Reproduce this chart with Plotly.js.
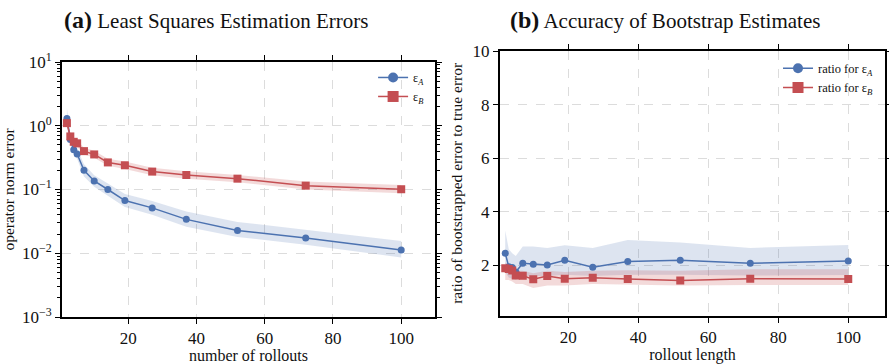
<!DOCTYPE html>
<html>
<head>
<meta charset="utf-8">
<script src="https://cdn.plot.ly/plotly-3.0.1.min.js"></script>
<style>html,body{margin:0;padding:0;background:#fff;}#chart{width:889px;height:364px;}</style>
</head>
<body>
<div id="chart"></div>
<script>
// ---- Panel (a): least squares estimation errors ----
const rollouts = [2, 3, 4, 5, 7, 10, 14, 19, 27, 37, 52, 72, 100];
const errA   = [1.30, 0.61, 0.42, 0.36, 0.20, 0.136, 0.100, 0.067, 0.0515, 0.034, 0.0227, 0.0174, 0.0112];
const errAHi = [1.90, 0.74, 0.52, 0.44, 0.25, 0.167, 0.124, 0.085, 0.066, 0.045, 0.031, 0.0230, 0.0155];
const errALo = [0.95, 0.52, 0.35, 0.30, 0.16, 0.110, 0.080, 0.053, 0.040, 0.026, 0.018, 0.0136, 0.0086];
const errB   = [1.10, 0.68, 0.56, 0.53, 0.40, 0.355, 0.266, 0.240, 0.191, 0.169, 0.148, 0.115, 0.101];
const errBHi = [1.22, 0.76, 0.63, 0.59, 0.45, 0.405, 0.305, 0.276, 0.219, 0.194, 0.169, 0.133, 0.118];
const errBLo = [0.99, 0.61, 0.50, 0.47, 0.355, 0.315, 0.235, 0.210, 0.167, 0.148, 0.130, 0.100, 0.087];

// ---- Panel (b): accuracy of bootstrap estimates ----
const lengths   = [2, 3, 4, 5, 7, 10, 14, 19, 27, 37, 52, 72, 100];
const ratioA    = [2.45, 1.95, 1.92, 1.75, 2.08, 2.04, 2.01, 2.19, 1.93, 2.14, 2.19, 2.08, 2.16];
const ratioAHi  = [3.30, 2.60, 2.45, 2.35, 2.70, 2.70, 2.65, 2.75, 2.65, 2.95, 2.85, 2.65, 2.76];
const ratioALo  = [1.75, 1.55, 1.50, 1.45, 1.60, 1.60, 1.60, 1.65, 1.60, 1.65, 1.65, 1.62, 1.64];
const ratioB    = [1.89, 1.86, 1.81, 1.62, 1.61, 1.48, 1.60, 1.50, 1.54, 1.49, 1.43, 1.50, 1.49];
const ratioBHi  = [2.10, 2.05, 1.95, 1.80, 1.80, 1.70, 1.80, 1.75, 1.80, 1.82, 1.80, 1.85, 1.85];
const ratioBLo  = [1.45, 1.45, 1.40, 1.30, 1.30, 1.15, 1.25, 1.25, 1.30, 1.28, 1.25, 1.27, 1.27];

// ---- tick labels ----
const xTickVals = [20, 40, 60, 80, 100];
const yLogTickVals = [0.001, 0.01, 0.1, 1, 10];
const yLogTickText = ['10<sup>\u22123</sup>', '10<sup>\u22122</sup>', '10<sup>\u22121</sup>', '10<sup>0</sup>', '10<sup>1</sup>'];
const yLinTickVals = [2, 4, 6, 8, 10];

const BLUE = '#4C72B0', RED = '#C44E52';
const BLUE_FILL = 'rgba(76,114,176,0.19)', RED_FILL = 'rgba(196,78,82,0.21)';
const FONT = 'Liberation Serif';

function band(x, lo, hi, fill, xa, ya) {
  return [
    {x: x, y: lo, xaxis: xa, yaxis: ya, mode: 'lines', line: {width: 0, color: fill}, showlegend: false, hoverinfo: 'skip'},
    {x: x, y: hi, xaxis: xa, yaxis: ya, mode: 'lines', line: {width: 0, color: fill}, fill: 'tonexty', fillcolor: fill, showlegend: false, hoverinfo: 'skip'}
  ];
}
function series(x, y, color, symbol, size, xa, ya) {
  return {x: x, y: y, xaxis: xa, yaxis: ya, mode: 'lines+markers', line: {color: color, width: 1.5},
          marker: {color: color, symbol: symbol, size: size}, showlegend: false};
}
function legendEntry(name, color, symbol, size, legend, xa, ya) {
  return {x: [null], y: [null], xaxis: xa, yaxis: ya, mode: 'lines+markers', name: name, legend: legend,
          line: {color: color, width: 1.5}, marker: {color: color, symbol: symbol, size: size}};
}

const data = [].concat(
  band(rollouts, errALo, errAHi, BLUE_FILL, 'x', 'y'),
  band(rollouts, errBLo, errBHi, RED_FILL, 'x', 'y'),
  [series(rollouts, errA, BLUE, 'circle', 7, 'x', 'y'),
   series(rollouts, errB, RED, 'square', 8, 'x', 'y')],
  band(lengths, ratioALo, ratioAHi, BLUE_FILL, 'x2', 'y2'),
  band(lengths, ratioBLo, ratioBHi, RED_FILL, 'x2', 'y2'),
  [series(lengths, ratioA, BLUE, 'circle', 7, 'x2', 'y2'),
   series(lengths, ratioB, RED, 'square', 8, 'x2', 'y2')],
  [legendEntry('\u03b5<sub><i>A</i></sub>', BLUE, 'circle', 10, 'legend', 'x', 'y'),
   legendEntry('\u03b5<sub><i>B</i></sub>', RED, 'square', 11, 'legend', 'x', 'y'),
   legendEntry('ratio for \u03b5<sub><i>A</i></sub>', BLUE, 'circle', 10, 'legend2', 'x2', 'y2'),
   legendEntry('ratio for \u03b5<sub><i>B</i></sub>', RED, 'square', 11, 'legend2', 'x2', 'y2')]
);

const axisCommon = {
  showline: true, linecolor: '#000', linewidth: 2, mirror: 'allticks',
  ticks: 'outside', ticklen: 5, tickwidth: 1, tickcolor: '#000',
  showgrid: true, gridcolor: '#dcdcdc', griddash: 'dash', gridwidth: 1,
  zeroline: false, tickfont: {family: FONT, size: 17, color: '#111'},
  automargin: false
};

const layout = {
  width: 889, height: 364,
  margin: {l: 62, r: 4, t: 51, b: 47},
  paper_bgcolor: '#fff', plot_bgcolor: '#fff',
  font: {family: FONT, color: '#111'},
  xaxis: Object.assign({}, axisCommon, {
    domain: [0, 0.4532], anchor: 'y', range: [0.56, 109.9],
    tickmode: 'array', tickvals: xTickVals,
    title: {text: 'number of rollouts', font: {family: FONT, size: 16}, standoff: 0}
  }),
  yaxis: Object.assign({}, axisCommon, {
    domain: [0, 0.9586], anchor: 'x', type: 'log', range: [-3, 1],
    tickmode: 'array', tickvals: yLogTickVals, ticktext: yLogTickText,
    minor: {ticks: 'outside', ticklen: 3, tickcolor: '#000', dtick: 'D1', showgrid: false},
    title: {text: 'operator norm error', font: {family: FONT, size: 15.5}, standoff: 4}
  }),
  xaxis2: Object.assign({}, axisCommon, {
    domain: [0.5322, 1], anchor: 'y2', range: [0.5, 110.5],
    tickmode: 'array', tickvals: xTickVals,
    title: {text: 'rollout length', font: {family: FONT, size: 16}, standoff: 0}
  }),
  yaxis2: Object.assign({}, axisCommon, {
    domain: [0.0049, 1], anchor: 'x2', range: [0.12, 10],
    tickmode: 'array', tickvals: yLinTickVals,
    title: {text: 'ratio of bootstrapped error to true error', font: {family: FONT, size: 15.5}, standoff: 6}
  }),
  legend: {x: 0.378, y: 0.955, xanchor: 'left', yanchor: 'top', bgcolor: 'rgba(0,0,0,0)',
           font: {family: FONT, size: 12}, tracegroupgap: 0, traceorder: 'normal'},
  legend2: {x: 0.870, y: 0.99, xanchor: 'left', yanchor: 'top', bgcolor: 'rgba(0,0,0,0)',
            font: {family: FONT, size: 12.5}, tracegroupgap: 0, traceorder: 'normal'},
  annotations: [
    {xref: 'paper', yref: 'paper', x: 0, y: 1.1165, xanchor: 'left', yanchor: 'middle', showarrow: false,
     text: '<b><span style="font-size:24px">(a)</span></b> Least Squares Estimation Errors',
     font: {family: FONT, size: 21, color: '#111'}},
    {xref: 'paper', yref: 'paper', x: 0.5419, y: 1.1165, xanchor: 'left', yanchor: 'middle', showarrow: false,
     text: '<b><span style="font-size:24px">(b)</span></b> Accuracy of Bootstrap Estimates',
     font: {family: FONT, size: 21, color: '#111'}}
  ]
};

Plotly.newPlot('chart', data, layout, {staticPlot: true, displayModeBar: false});
</script>
</body>
</html>
